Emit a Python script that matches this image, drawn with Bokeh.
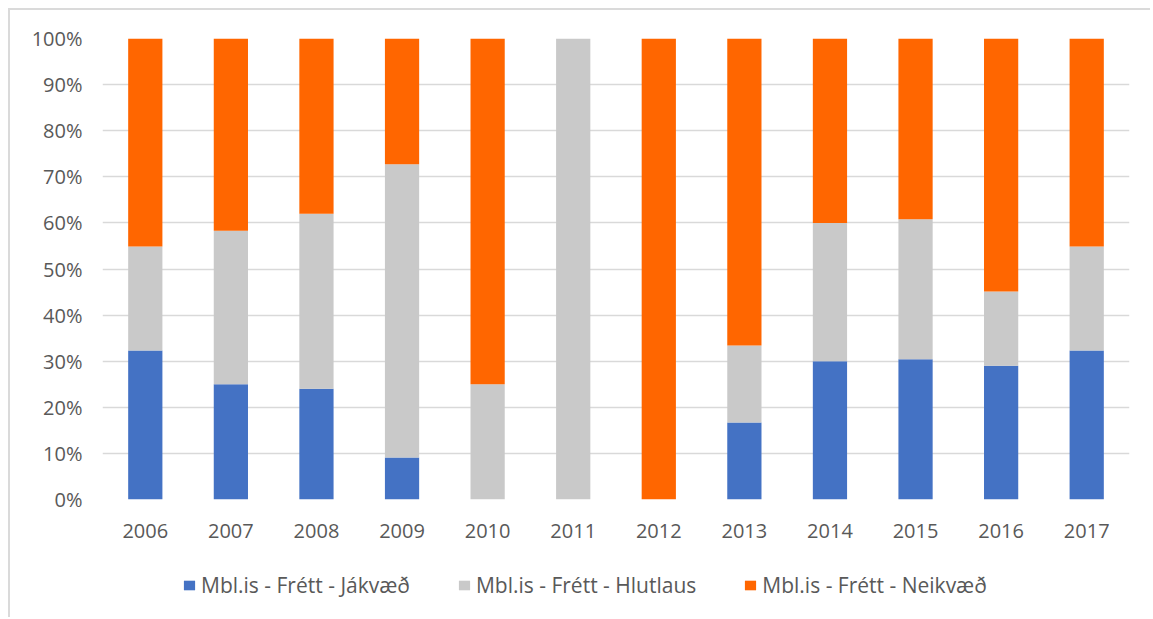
from bokeh.plotting import figure
from bokeh.layouts import column
from bokeh.models import FactorRange, Range1d, NumeralTickFormatter, FixedTicker, Legend, LegendItem, ColumnDataSource
from bokeh.embed import file_html
from bokeh.resources import INLINE

years = ["2006", "2007", "2008", "2009", "2010", "2011", "2012", "2013", "2014", "2015", "2016", "2017"]
positive = [32.3, 25.0, 24.0, 9.1, 0.0, 0.0, 0.0, 16.7, 30.0, 30.4, 29.0, 32.3]
neutral = [22.6, 33.3, 38.0, 63.6, 25.0, 100.0, 0.0, 16.7, 30.0, 30.4, 16.1, 22.6]
negative = [45.1, 41.7, 38.0, 27.3, 75.0, 0.0, 100.0, 66.6, 40.0, 39.2, 54.9, 45.1]
series_names = ["Mbl.is - Frétt - Jákvæð", "Mbl.is - Frétt - Hlutlaus", "Mbl.is - Frétt - Neikvæð"]
colors = ["#4472C4", "#C9C9C9", "#FF6600"]
y_ticks = [0, 10, 20, 30, 40, 50, 60, 70, 80, 90, 100]

keys = ["pos", "neu", "neg"]
source = ColumnDataSource(dict(
    years=years,
    pos=[v / 100 for v in positive],
    neu=[v / 100 for v in neutral],
    neg=[v / 100 for v in negative],
))

FONT = "Open Sans"
TXT = "#595959"
GRID = "#D9D9D9"

p = figure(x_range=FactorRange(*years, range_padding=0), y_range=Range1d(0, 1),
           width=1140, height=551, output_backend="svg", toolbar_location=None,
           min_border_left=92, min_border_right=21, min_border_top=28, min_border_bottom=62)

p.vbar_stack(keys, x="years", width=0.4, source=source, color=colors, line_color=None)

p.outline_line_color = None
p.xgrid.grid_line_color = None
p.ygrid.grid_line_color = GRID
p.ygrid.grid_line_width = 1.5
p.yaxis.ticker = FixedTicker(ticks=[t / 100 for t in y_ticks])
p.yaxis.formatter = NumeralTickFormatter(format="0%")

for ax in (p.xaxis, p.yaxis):
    ax.axis_line_color = None
    ax.major_tick_line_color = None
    ax.minor_tick_line_color = None
    ax.major_label_text_font = FONT
    ax.major_label_text_font_size = "20px"
    ax.major_label_text_color = TXT
p.yaxis.major_label_standoff = 14
p.xaxis.major_label_standoff = 18

# legend strip below the chart (same stacked series, drawn out of view; only the legend shows)
lf = figure(width=1140, height=56, output_backend="svg", toolbar_location=None,
            x_range=FactorRange(*years, range_padding=0), y_range=Range1d(2, 3),
            x_axis_type=None, y_axis_type=None, min_border=0,
            min_border_left=0, min_border_right=0, min_border_top=0, min_border_bottom=0)
lf.outline_line_color = None
lf.grid.visible = False
swatches = lf.vbar_stack(keys, x="years", width=0.4, source=source, color=colors, line_color=None)

legend = Legend(items=[LegendItem(label=n, renderers=[r]) for n, r in zip(series_names, swatches)],
                orientation="horizontal", location=(78, 16),
                glyph_width=14, glyph_height=12, label_standoff=5, spacing=47,
                padding=2, margin=0, border_line_alpha=0, background_fill_alpha=0,
                label_text_font=FONT, label_text_font_size="21px", label_text_color=TXT)
lf.add_layout(legend, "center")

layout = column(p, lf, spacing=0,
                styles={"border-top": "2px solid #DADADA", "border-left": "2px solid #DADADA",
                        "margin-left": "8px", "margin-top": "8px"})

open("out.html", "w").write(file_html(layout, INLINE))
